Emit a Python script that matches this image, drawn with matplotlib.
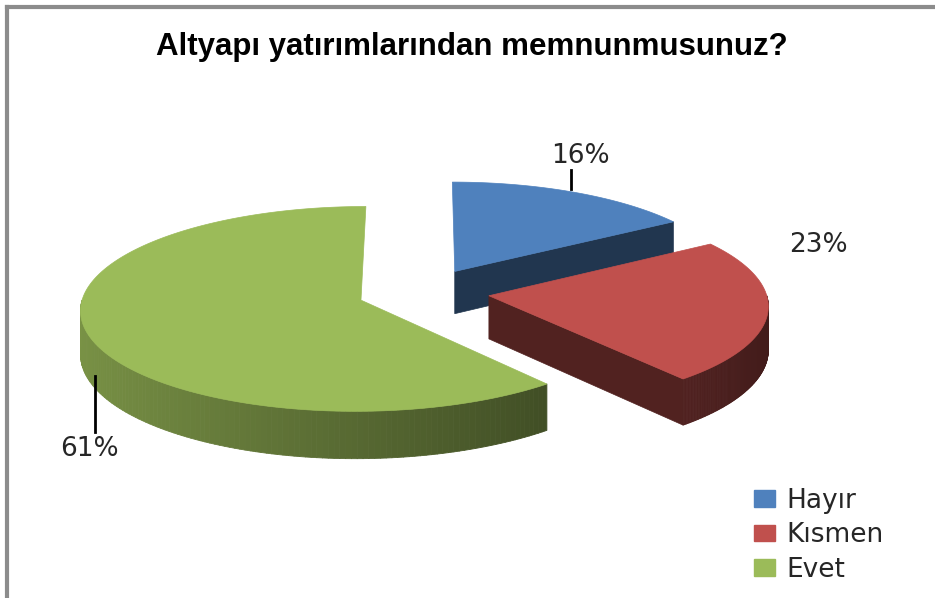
import numpy as np
import matplotlib.pyplot as plt
from matplotlib.patches import Polygon, Patch
from matplotlib.collections import PolyCollection

# data
labels = ['Hayır', 'Kısmen', 'Evet']
values = [16, 23, 61]
colors = ['#4F81BD', '#C0504D', '#9BBB59']
title = 'Altyapı yatırımlarından memnunmusunuz?'

# 3d pie layout (pixel space)
cx, cy = 423.5, 292
R = 277
k = 0.362        # vertical squash
p = 0.085        # perspective strength
H = 43           # thickness
explode = 66


def project(X, Z, h=0.0):
    s = 1.0 / (1.0 + p * Z / R)
    return cx + X * s, cy - Z * k * s + h * s


def shade(c, f):
    c = np.array(plt.matplotlib.colors.to_rgb(c))
    return tuple(np.clip(c * f, 0, 1))


fig = plt.figure(figsize=(9.35, 5.98), dpi=100)
ax = fig.add_axes([0, 0, 1, 1])
ax.set_xlim(0, 935)
ax.set_ylim(598, 0)
ax.axis('off')

total = sum(values)
bounds = np.concatenate([[0], np.cumsum(values) / total * 360])
anchors = []

for i in range(len(values)):
    a0, a1 = bounds[i], bounds[i + 1]
    m = np.radians((a0 + a1) / 2)
    ox, oz = explode * np.sin(m), explode * np.cos(m)
    th = np.radians(np.linspace(a0, a1, 200))
    X = ox + R * np.sin(th)
    Z = oz + R * np.cos(th)

    # visible cut face at end edge
    if np.sin(np.radians(a1)) > 1e-6:
        ex, ez = ox + R * np.sin(np.radians(a1)), oz + R * np.cos(np.radians(a1))
        quad = [project(ox, oz), project(ex, ez), project(ex, ez, H), project(ox, oz, H)]
        ax.add_patch(Polygon(quad, closed=True, fc=shade(colors[i], 0.42),
                             ec=shade(colors[i], 0.42), lw=0.5, zorder=2 + 3 * i))

    # outer side, front half only
    lo, hi = max(a0, 90), min(a1, 270)
    if hi > lo:
        t = np.radians(np.linspace(lo, hi, 120))
        sx = ox + R * np.sin(t)
        sz = oz + R * np.cos(t)
        strips, cols = [], []
        for j in range(len(t) - 1):
            strips.append([project(sx[j], sz[j]), project(sx[j + 1], sz[j + 1]),
                           project(sx[j + 1], sz[j + 1], H), project(sx[j], sz[j], H)])
            f = 0.56 - 0.22 * np.sin((t[j] + t[j + 1]) / 2)
            cols.append(shade(colors[i], f))
        ax.add_collection(PolyCollection(strips, facecolors=cols, edgecolors=cols,
                                         linewidths=0.6, zorder=3 + 3 * i))

    # top face
    top = [project(ox, oz)] + [project(x, z) for x, z in zip(X, Z)]
    ax.add_patch(Polygon(top, closed=True, fc=colors[i], ec=colors[i], lw=0.5,
                         zorder=4 + 3 * i))

    anchors.append((ox + R * np.sin(m), oz + R * np.cos(m)))

# percentage labels
txt = dict(fontsize=19, color='#262626', ha='center', va='center', zorder=20)
bx, by = project(*anchors[0])
ax.plot([bx - 4, bx - 4], [by - 3, by - 22], color='black', lw=2, zorder=20)
ax.text(bx + 6, by - 36, f'{values[0]}%', **txt)

rx, ry = project(*anchors[1])
ax.text(rx + 50, ry - 67, f'{values[1]}%', **txt)

gx, gy = project(*anchors[2], H)
ax.plot([gx + 6, gx + 6], [gy - 4, gy + 52], color='black', lw=2, zorder=20)
ax.text(gx + 1, gy + 69, f'{values[2]}%', **txt)

# title
ax.text(472, 47, title, fontsize=22.5, fontweight='bold', family='Liberation Sans',
        ha='center', va='center', color='black')

# chart border (left and top edge only are visible)
ax.plot([7, 7], [7, 598], color='#8c8c8c', lw=3)
ax.plot([7, 935], [7, 7], color='#8c8c8c', lw=3)

handles = [Patch(fc=c, ec=c) for c in colors]
ax.legend(handles, labels, loc='upper left', bbox_to_anchor=(730 / 935, 1 - 464 / 598),
          frameon=False, fontsize=19, handlelength=0.8, handleheight=0.6,
          handletextpad=0.45, labelspacing=0.32, labelcolor='#262626')

fig.savefig('out.png', dpi=100, facecolor='white')
